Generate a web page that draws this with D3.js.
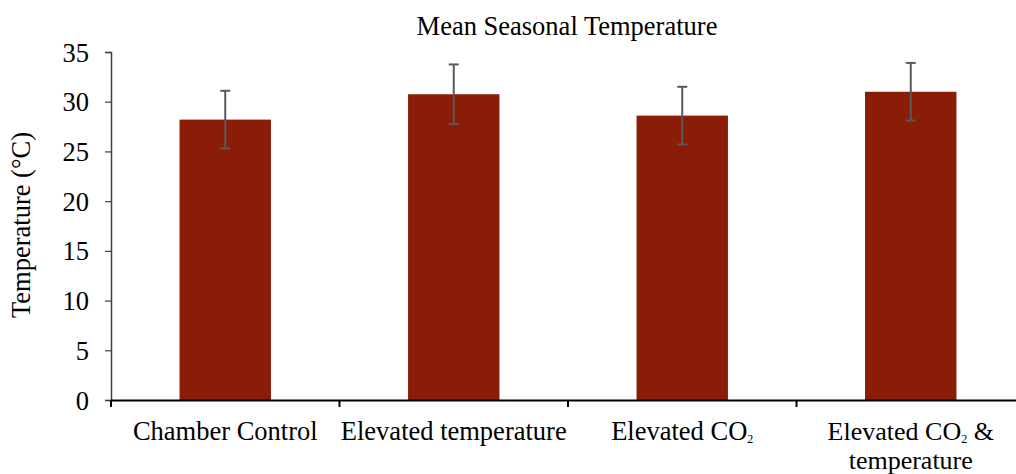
<!DOCTYPE html>
<html><head><meta charset="utf-8">
<script src="https://cdn.jsdelivr.net/npm/d3@7"></script>
<style>body{margin:0;background:#fff}svg{display:block}text{font-family:"Liberation Serif","Times New Roman",serif;fill:#000}</style>
</head><body>
<svg id="c" width="1016" height="474"></svg>
<script>
const categories = ["Chamber Control","Elevated temperature","Elevated CO2","Elevated CO2 & temperature"];
const means = [28.2, 30.75, 28.6, 31.0];
const errors = [2.9, 3.0, 2.9, 2.9];
const yTicks = [0,5,10,15,20,25,30,35];

const FS = "26.5px";
const svg = d3.select("#c");
const x = d3.scaleBand().domain(categories).range([111, 1025]).paddingInner(0).paddingOuter(0);
const y = d3.scaleLinear().domain([0,35]).range([400, 52]);
const bw = x.bandwidth()*0.4;

// bars
svg.selectAll("rect.bar").data(categories).join("rect")
  .attr("x", d => x(d) + x.bandwidth()/2 - bw/2)
  .attr("y", (d,i) => y(means[i]))
  .attr("width", bw)
  .attr("height", (d,i) => y(0) - y(means[i]))
  .attr("fill", "#8b1c07");

// error bars
const eg = svg.append("g").attr("stroke", "#595959").attr("stroke-width", 2);
categories.forEach((c,i) => {
  const cx = x(c) + x.bandwidth()/2;
  eg.append("line").attr("x1",cx).attr("x2",cx).attr("y1",y(means[i]+errors[i])).attr("y2",y(means[i]-errors[i]));
  [means[i]+errors[i], means[i]-errors[i]].forEach(v=>{
    eg.append("line").attr("x1",cx-5).attr("x2",cx+5).attr("y1",y(v)).attr("y2",y(v));
  });
});

// y axis
const ya = svg.append("g").attr("transform","translate(111,0)")
  .call(d3.axisLeft(y).tickValues(yTicks).tickSize(6).tickPadding(16));
ya.attr("font-family","Liberation Serif").attr("font-size",null);
ya.select(".domain").attr("stroke","#404040").attr("stroke-width",1.5);
ya.selectAll(".tick line").attr("stroke","#404040").attr("stroke-width",1.2);
ya.selectAll(".tick text").style("font-size",FS).style("font-family","'Liberation Serif'").attr("fill","#000").attr("dy","0.34em");

// x axis
const xa = svg.append("g");
xa.append("line").attr("x1",111).attr("x2",1016).attr("y1",y(0)+0.5).attr("y2",y(0)+0.5).attr("stroke","#000").attr("stroke-width",2);
const bounds = categories.map(c => x(c)).concat([x.range()[1]]);
xa.selectAll("line.tk").data(bounds).join("line").attr("class","tk")
  .attr("x1",d=>d).attr("x2",d=>d).attr("y1",y(0)).attr("y2",y(0)+7)
  .attr("stroke","#000").attr("stroke-width",2);

// category labels with subscript
function label(i, lines, fs){
  const cx = x(categories[i]) + x.bandwidth()/2;
  lines.forEach((ln, k) => {
    const t = svg.append("text").attr("x",cx).attr("y",440 + k*29).attr("text-anchor","middle").style("font-size",fs || FS);
    ln.forEach(seg => {
      const ts = t.append("tspan").text(seg.t);
      if (seg.sub) ts.style("font-size","12px").attr("dy",3);
      else if (seg.after) ts.attr("dy",-3);
    });
  });
}
label(0, [[{t:"Chamber Control"}]]);
label(1, [[{t:"Elevated temperature"}]]);
label(2, [[{t:"Elevated CO"},{t:"2",sub:true}]]);
label(3, [[{t:"Elevated CO"},{t:"2",sub:true},{t:" &",after:true}],[{t:"temperature"}]], "26px");

// title
svg.append("text").attr("x",567).attr("y",35).attr("text-anchor","middle").style("font-size",FS).text("Mean Seasonal Temperature");

// y title
svg.append("text").attr("transform","translate(30,225) rotate(-90)").attr("text-anchor","middle").style("font-size",FS).text("Temperature (°C)");
</script>
</body></html>
